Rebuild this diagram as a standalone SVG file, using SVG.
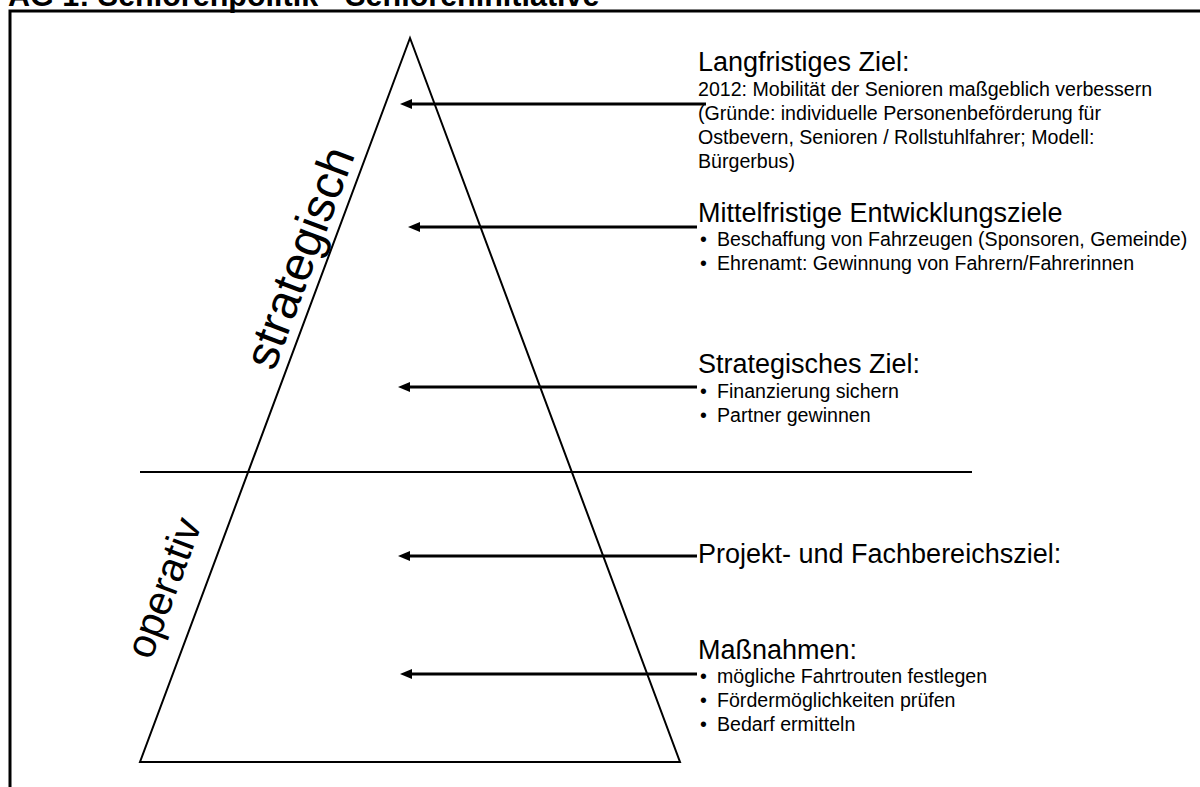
<svg xmlns="http://www.w3.org/2000/svg" width="1200" height="787" viewBox="0 0 1200 787">
<style>
text{font-family:"Liberation Sans",Arial,sans-serif;fill:#000}
.title{font-size:30.5px;font-weight:bold}
.h{font-size:27px}
.b{font-size:19.6px}
.side{font-size:48px}
.conn line{stroke:#000;stroke-width:3}
</style>
<defs>
<marker id="ah" markerUnits="userSpaceOnUse" markerWidth="12" markerHeight="10" viewBox="0 0 12 10" refX="0" refY="5" orient="auto">
<path d="M0,0 L12,5 L0,10 z" fill="#000"/>
</marker>
</defs>
<rect width="1200" height="787" fill="#fff"/>
<text class="title" x="8" y="6">AG 1: Seniorenpolitik - Senioreninitiative</text>
<rect x="10" y="11" width="1200" height="800" fill="none" stroke="#000" stroke-width="3"/>
<g id="pyramid">
<polygon points="410,38 680,762 140,762" fill="none" stroke="#000" stroke-width="2"/>
<line x1="140" y1="472" x2="972" y2="472" stroke="#000" stroke-width="2"/>
<text class="side" transform="translate(274,372) rotate(-69.5)">strategisch</text>
<text class="side" style="font-size:41px" transform="translate(151,661) rotate(-69.5)">operativ</text>
</g>
<g id="connectors" class="conn">
<line x1="706" y1="104" x2="412" y2="104" marker-end="url(#ah)"/>
<line x1="697" y1="227" x2="420" y2="227" marker-end="url(#ah)"/>
<line x1="697" y1="387" x2="410" y2="387" marker-end="url(#ah)"/>
<line x1="697" y1="556" x2="410" y2="556" marker-end="url(#ah)"/>
<line x1="697" y1="674" x2="412" y2="674" marker-end="url(#ah)"/>
</g>
<g id="n1">
<text class="h" x="698" y="71">Langfristiges Ziel:</text>
<text class="b" x="698" y="96">2012: Mobilität der Senioren maßgeblich verbessern</text>
<text class="b" x="698" y="120">(Gründe: individuelle Personenbeförderung für</text>
<text class="b" x="698" y="144">Ostbevern, Senioren / Rollstuhlfahrer; Modell:</text>
<text class="b" x="698" y="168">Bürgerbus)</text>
</g>
<g id="n2">
<text class="h" x="698" y="222">Mittelfristige Entwicklungsziele</text>
<text class="b" x="700" y="246">•</text><text class="b" x="717" y="246">Beschaffung von Fahrzeugen (Sponsoren, Gemeinde)</text>
<text class="b" x="700" y="270">•</text><text class="b" x="717" y="270">Ehrenamt: Gewinnung von Fahrern/Fahrerinnen</text>
</g>
<g id="n3">
<text class="h" x="698" y="373">Strategisches Ziel:</text>
<text class="b" x="700" y="398">•</text><text class="b" x="717" y="398">Finanzierung sichern</text>
<text class="b" x="700" y="422">•</text><text class="b" x="717" y="422">Partner gewinnen</text>
</g>
<g id="n4">
<text class="h" x="698" y="563">Projekt- und Fachbereichsziel:</text>
</g>
<g id="n5">
<text class="h" x="698" y="659">Maßnahmen:</text>
<text class="b" x="700" y="683">•</text><text class="b" x="717" y="683">mögliche Fahrtrouten festlegen</text>
<text class="b" x="700" y="707">•</text><text class="b" x="717" y="707">Fördermöglichkeiten prüfen</text>
<text class="b" x="700" y="731">•</text><text class="b" x="717" y="731">Bedarf ermitteln</text>
</g>
</svg>
